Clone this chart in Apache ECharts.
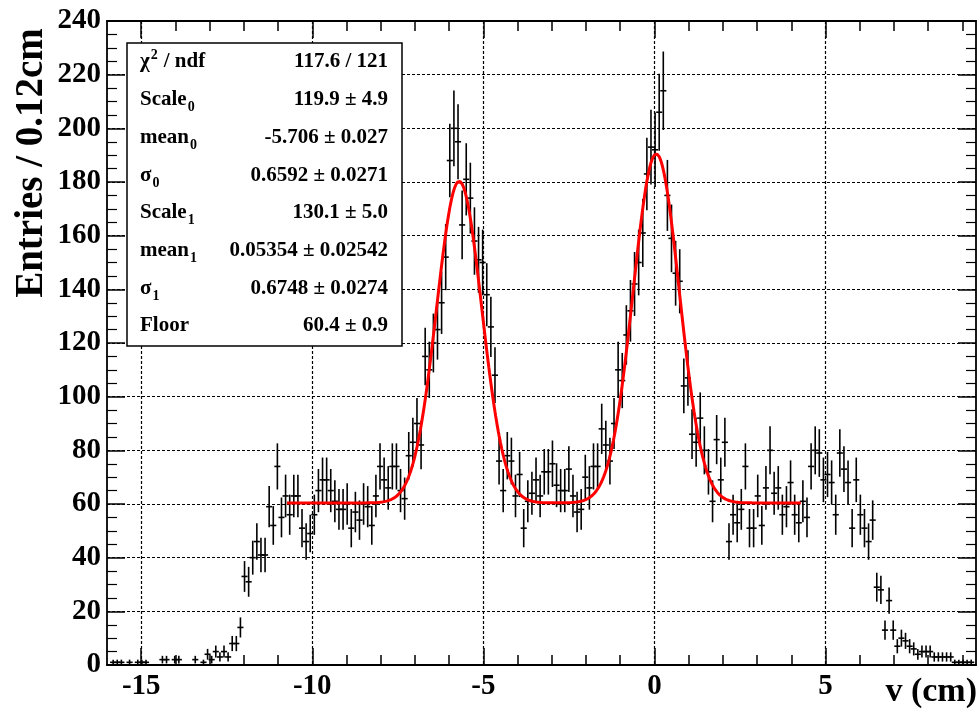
<!DOCTYPE html>
<html>
<head>
<meta charset="utf-8">
<script src="https://cdn.jsdelivr.net/npm/echarts@6/dist/echarts.min.js"></script>
<style>
html, body { margin: 0; padding: 0; background: #fff; }
#chart { width: 979px; height: 709px; }
</style>
</head>
<body>
<div id="chart"></div>
<script>
// histogram, 0.12 cm bins starting at v = -16 cm
const binStart = -16;
const binWidth = 0.12;
const counts = [
  0, 1, 1, 1, 0, 1, 0, 1, 1, 1, 0, 0, 0, 2, 2, 0, 2, 2, 0, 0,
  0, 2, 0, 1, 4, 2, 5, 3, 5, 3, 8, 8, 14, 33, 31, 40, 46, 41, 41, 59,
  52, 74, 55, 63, 56, 63, 63, 51, 46, 49, 56, 65, 69, 69, 65, 61, 58, 58, 60, 51,
  57, 54, 60, 59, 52, 63, 74, 69, 66, 74, 74, 65, 62, 78, 83, 90, 82, 115, 110, 120,
  125, 135, 152, 188, 200, 195, 164, 181, 174, 158, 151, 150, 138, 126, 108, 76, 65, 78, 76, 63,
  71, 51, 61, 64, 69, 63, 72, 72, 75, 67, 65, 65, 73, 63, 57, 58, 70, 66, 74, 74,
  88, 82, 76, 90, 110, 106, 123, 132, 142, 150, 161, 183, 193, 192, 206, 214, 175, 159, 146, 143,
  104, 107, 86, 83, 92, 80, 72, 61, 84, 69, 83, 46, 56, 53, 58, 74, 51, 51, 63, 52,
  66, 80, 64, 66, 56, 59, 68, 56, 53, 61, 55, 74, 80, 79, 69, 71, 68, 56, 79, 73,
  68, 51, 69, 56, 51, 46, 54, 29, 28, 13, 24, 13, 7, 10, 9, 7, 6, 4, 5, 5,
  5, 3, 3, 3, 3, 3, 1, 1, 1, 1, 1
];

// fit: two gaussians on a flat floor (parameters from the stats box)
const fitRange = [-10.74, 4.3];
const fitFloor = 60.4;
const fitScale = [119.9, 130.1];
const fitMean = [-5.706, 0.05354];
const fitSigma = [0.6592, 0.6748];

// stats box rows
const statNames = ['χ', 'Scale', 'mean', 'σ', 'Scale', 'mean', 'σ', 'Floor'];
const statSubs = ['', '0', '0', '0', '1', '1', '1', ''];
const statValues = ['117.6 / 121', '119.9 ± 4.9', '-5.706 ± 0.027', '0.6592 ± 0.0271',
  '130.1 ± 5.0', '0.05354 ± 0.02542', '0.6748 ± 0.0274', '60.4 ± 0.9'];

// axis ticks
const xMajor = [-15, -10, -5, 0, 5];
const xMinor = [-15, -14, -13, -12, -11, -10, -9, -8, -7, -6, -5, -4, -3, -2, -1, 0, 1, 2, 3, 4, 5, 6, 7, 8, 9];
const xRange = [-16, 9.4];
const yRange = [0, 240];

const black = '#000';
const serif = 'Liberation Serif';

const points = [];
counts.forEach((n, i) => {
  if (n > 0) points.push([binStart + binWidth * (i + 0.5), n]);
});

const fitLine = [];
for (let x = fitRange[0]; x <= fitRange[1] + 1e-9; x += 0.02) {
  let y = fitFloor;
  for (let k = 0; k < 2; k++) {
    const z = (x - fitMean[k]) / fitSigma[k];
    y += fitScale[k] * Math.exp(-0.5 * z * z);
  }
  fitLine.push([x, y]);
}

function xAxisOf (position, ticks, len, main) {
  return {
    type: 'value',
    position: position,
    min: xRange[0],
    max: xRange[1],
    axisLine: { show: main, onZero: false, lineStyle: { color: black, width: 1.8 } },
    axisTick: { show: true, inside: true, length: len, customValues: ticks, lineStyle: { color: black, width: 1.5 } },
    axisLabel: {
      show: main && position === 'bottom',
      customValues: xMajor,
      margin: 7,
      fontFamily: serif, fontWeight: 'bold', fontSize: 29, color: black
    },
    splitLine: { show: main && position === 'bottom', lineStyle: { type: [3, 2], color: black, width: 1.2 } }
  }
}

function yAxisOf (position) {
  const left = position === 'left';
  return {
    type: 'value',
    position: position,
    min: yRange[0],
    max: yRange[1],
    interval: 20,
    axisLine: { show: true, onZero: false, lineStyle: { color: black, width: 1.8 } },
    axisTick: { show: true, inside: true, length: 18, lineStyle: { color: black, width: 1.5 } },
    minorTick: { show: true, splitNumber: 4, length: 10, lineStyle: { color: black, width: 1.2 } },
    axisLabel: {
      show: left, margin: 6,
      fontFamily: serif, fontWeight: 'bold', fontSize: 29, color: black
    },
    splitLine: { show: left, lineStyle: { type: [3, 2], color: black, width: 1.2 } }
  }
}

// stats box
const boxX = 127, boxY = 43, boxW = 275, boxH = 303;
const rowY0 = 62, rowStep = 37.7;
const statFont = 'bold 21px "' + serif + '"';
const subFont = 'bold 14px "' + serif + '"';
const measure = document.createElement('canvas').getContext('2d');
function textWidth (str, font) {
  measure.font = font;
  return measure.measureText(str).width;
}

const graphics = [{
  type: 'rect', z: 100,
  shape: { x: boxX, y: boxY, width: boxW, height: boxH },
  style: { fill: '#fff', stroke: black, lineWidth: 1.5 }
}];
statNames.forEach((name, i) => {
  const y = rowY0 + rowStep * i;
  const lx = 140;
  graphics.push({
    type: 'text', z: 101, x: lx, y: y,
    style: { text: name, font: statFont, fill: black, textAlign: 'left', textVerticalAlign: 'middle' }
  });
  const w = textWidth(name, statFont);
  if (i === 0) {
    graphics.push({
      type: 'text', z: 101, x: lx + w + 1, y: y - 7,
      style: { text: '2', font: subFont, fill: black, textAlign: 'left', textVerticalAlign: 'middle' }
    });
    graphics.push({
      type: 'text', z: 101, x: lx + w + 14, y: y,
      style: { text: '/ ndf', font: statFont, fill: black, textAlign: 'left', textVerticalAlign: 'middle' }
    });
  } else if (statSubs[i]) {
    graphics.push({
      type: 'text', z: 101, x: lx + w + 1, y: y + 8,
      style: { text: statSubs[i], font: subFont, fill: black, textAlign: 'left', textVerticalAlign: 'middle' }
    });
  }
  graphics.push({
    type: 'text', z: 101, x: 388, y: y,
    style: { text: statValues[i], font: statFont, fill: black, textAlign: 'right', textVerticalAlign: 'middle' }
  });
});

// axis titles
graphics.push({
  type: 'text', z: 101, x: 32, y: 163, rotation: Math.PI / 2,
  style: { text: 'Entries / 0.12cm', font: 'bold 39px "' + serif + '"', fill: black, textAlign: 'center', textVerticalAlign: 'middle' }
});
graphics.push({
  type: 'text', z: 101, x: 977, y: 692,
  style: { text: 'v (cm)', font: 'bold 34px "' + serif + '"', fill: black, textAlign: 'right', textVerticalAlign: 'middle' }
});

const chart = echarts.init(document.getElementById('chart'));
const option = {
  animation: false,
  backgroundColor: '#fff',
  grid: { left: 107, right: 3, top: 21, bottom: 44, containLabel: false },
  xAxis: [
    xAxisOf('bottom', xMajor, 17, true),
    xAxisOf('bottom', xMinor, 10, false),
    xAxisOf('top', xMajor, 17, true),
    xAxisOf('top', xMinor, 10, false)
  ],
  yAxis: [yAxisOf('left'), yAxisOf('right')],
  series: [
    {
      // data points with sqrt(N) error bars and bin-width bars
      type: 'custom',
      xAxisIndex: 0,
      yAxisIndex: 0,
      clip: true,
      z: 5,
      data: points,
      renderItem: (params, api) => {
        const x = api.value(0);
        const n = api.value(1);
        const e = Math.sqrt(n);
        const top = api.coord([x, n + e]);
        const bot = api.coord([x, n - e]);
        const l = api.coord([x - binWidth / 2, n]);
        const r = api.coord([x + binWidth / 2, n]);
        const st = { stroke: black, lineWidth: 1.6 };
        return {
          type: 'group',
          children: [
            { type: 'line', shape: { x1: top[0], y1: top[1], x2: bot[0], y2: bot[1] }, style: st },
            { type: 'line', shape: { x1: l[0] - 1, y1: l[1], x2: r[0] + 1, y2: r[1] }, style: st }
          ]
        };
      }
    },
    {
      type: 'line',
      xAxisIndex: 0,
      yAxisIndex: 0,
      z: 6,
      data: fitLine,
      showSymbol: false,
      symbol: 'none',
      lineStyle: { color: '#ff0000', width: 3 }
    }
  ],
  graphic: graphics
};
chart.setOption(option);
</script>
</body>
</html>
